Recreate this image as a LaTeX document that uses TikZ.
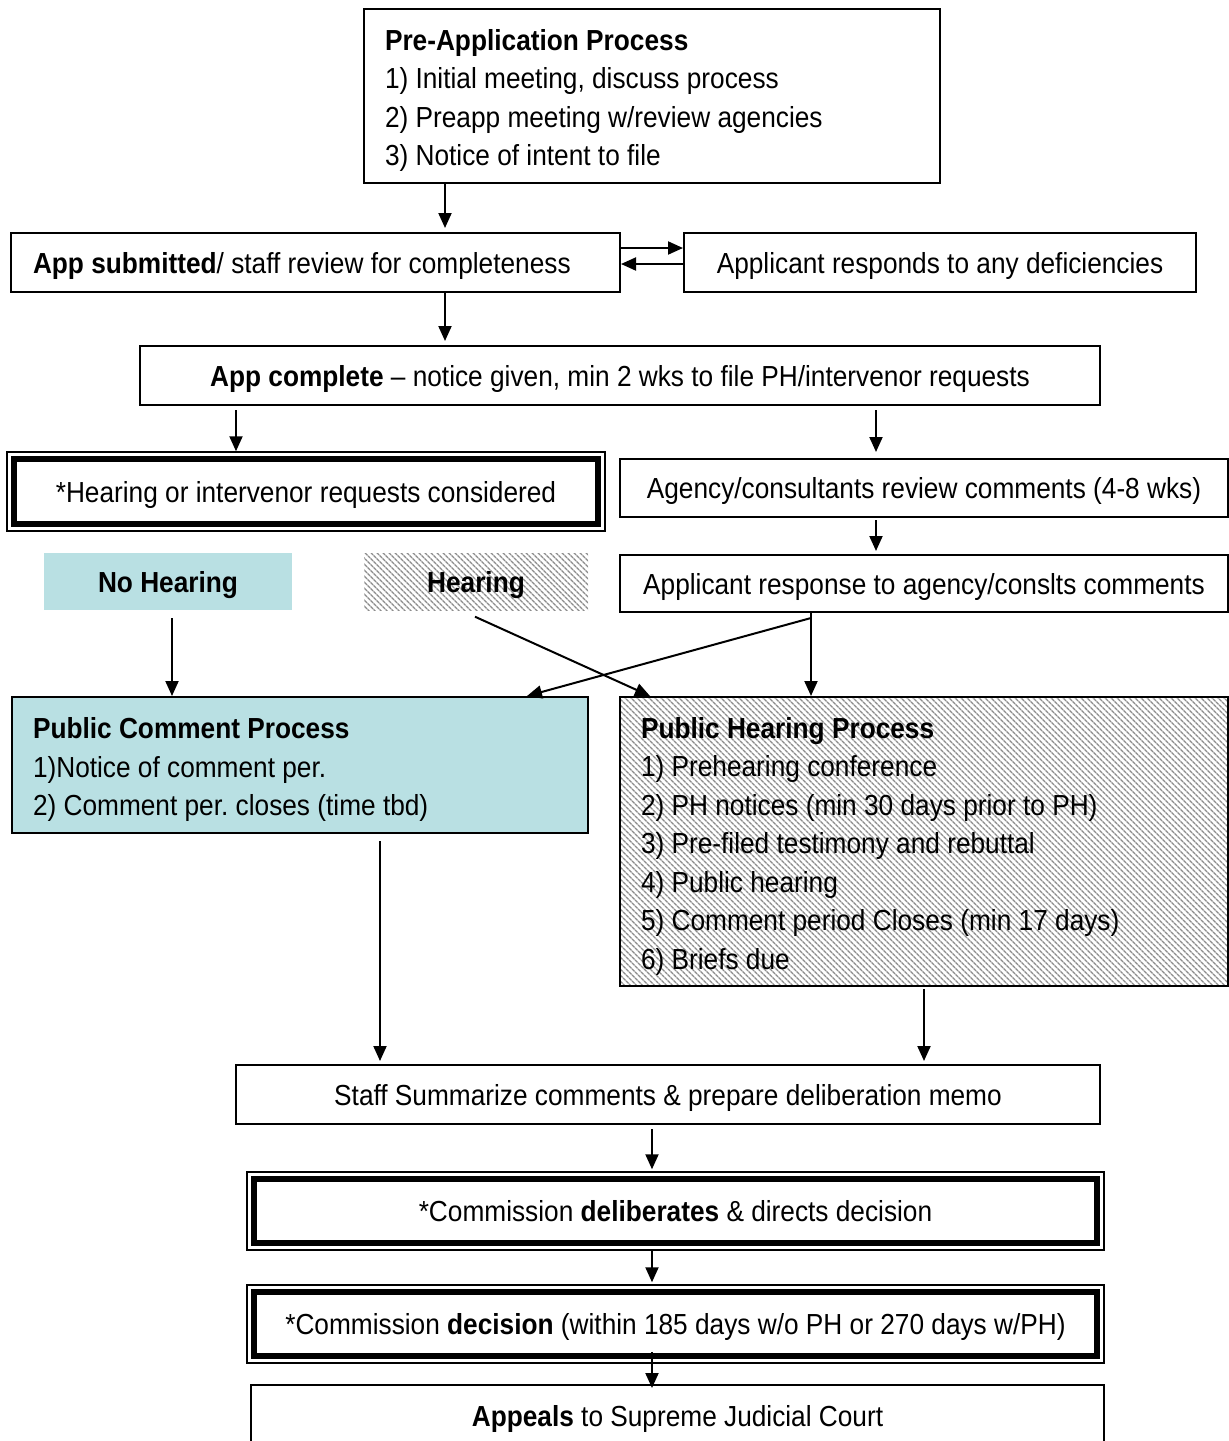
\documentclass[tikz,border=0pt]{standalone}
\usepackage{fontspec}
\setmainfont{Liberation Sans}[FakeStretch=0.905]
\usetikzlibrary{arrows.meta,patterns.meta}
\definecolor{tealfill}{RGB}{185,224,227}
\begin{document}
\begin{tikzpicture}[x=1pt,y=-1pt,
  txtfont/.style={font=\fontsize{29}{38.5}\selectfont\frenchspacing},
  box/.style={draw, line width=2pt, inner sep=0pt, txtfont, text height=21pt, text depth=0pt},
  mbox/.style={draw, line width=2pt, inner xsep=21pt, inner ysep=0pt, align=flush left, txtfont},
  dbl/.style={draw, line width=1.5pt, inner sep=0pt, txtfont, text height=21pt, text depth=0pt},
  thickin/.style={line width=6pt},
  arr/.style={line width=2pt, -{Triangle[length=15pt,width=13pt]}},
  hatch/.style={pattern={Lines[angle=-45,distance=4pt,line width=1.4pt]}, pattern color=gray!90}
]
\useasboundingbox (0,0) rectangle (1229,1441);

% nodes
\node[mbox, text width=534pt, minimum width=576pt, minimum height=174pt] (pre) at (652,96)
  {\rule{0pt}{30pt}\textbf{Pre-Application Process}\\1) Initial meeting, discuss process\\2) Preapp meeting w/review agencies\\3) Notice of intent to file};
\node[box, minimum width=609pt, minimum height=59pt, text width=565pt, inner xsep=22pt, align=flush left] (sub) at (315.5,262.5)
  {\textbf{App submitted}/ staff review for completeness};
\node[box, minimum width=512pt, minimum height=59pt] (ar) at (940,262.5)
  {Applicant responds to any deficiencies};
\node[box, minimum width=960pt, minimum height=59pt] (comp) at (620,375.5)
  {\textbf{App complete} -- notice given, min 2 wks to file PH/intervenor requests};
\node[dbl, minimum width=598pt, minimum height=79pt] (hear) at (306,491.5)
  {*Hearing or intervenor requests considered};
\node[box, minimum width=608pt, minimum height=58pt] (agency) at (924,488)
  {Agency/consultants review comments (4-8 wks)};
\node[box, minimum width=608pt, minimum height=57pt] (resp) at (924,583.5)
  {Applicant response to agency/conslts comments};
\node[box, draw=none, fill=tealfill, minimum width=248pt, minimum height=57pt] (nh) at (168,581.5)
  {\textbf{No Hearing}};
\node[box, draw=none, hatch, minimum width=224pt, minimum height=57pt] (hl) at (476,581.5)
  {\textbf{Hearing}};
\node[mbox, fill=tealfill, text width=534pt, minimum width=576pt, minimum height=136pt] (pc) at (300,765)
  {\rule{0pt}{30pt}\textbf{Public Comment Process}\\1)Notice of comment per.\\2) Comment per. closes (time tbd)};
\node[mbox, hatch, text width=566pt, minimum width=608pt, minimum height=289pt] (ph) at (924,841.5)
  {\rule{0pt}{30pt}\textbf{Public Hearing Process}\\1) Prehearing conference\\2) PH notices (min 30 days prior to PH)\\3) Pre-filed testimony and rebuttal\\4) Public hearing\\5) Comment period Closes (min 17 days)\\6) Briefs due};
\node[box, minimum width=864pt, minimum height=59pt] (staff) at (668,1094.5)
  {Staff Summarize comments \& prepare deliberation memo};
\node[dbl, minimum width=857pt, minimum height=78pt] (delib) at (675.5,1211)
  {*Commission \textbf{deliberates} \& directs decision};
\node[dbl, minimum width=857pt, minimum height=78pt] (dec) at (675.5,1324)
  {*Commission \textbf{decision} (within 185 days w/o PH or 270 days w/PH)};
\node[box, minimum width=853pt, minimum height=62pt] (app) at (677.5,1416)
  {\textbf{Appeals} to Supreme Judicial Court};

% inner thick frames of the double boxes
\foreach \n in {hear,delib,dec}{
  \draw[thickin] ([xshift=8pt,yshift=-8pt]\n.north west) rectangle ([xshift=-8pt,yshift=8pt]\n.south east);
}

% helper coordinates
\coordinate (c445) at (445,0);
\coordinate (c236) at (236,0);
\coordinate (c876) at (876,0);
\coordinate (c172) at (172,0);
\coordinate (c475) at (475,0);
\coordinate (c650) at (650,0);
\coordinate (c811) at (811,0);
\coordinate (c527) at (527,0);
\coordinate (c380) at (380,0);
\coordinate (c924) at (924,0);
\coordinate (c652) at (652,0);
\coordinate (r248) at (0,248);
\coordinate (r264) at (0,264);
\coordinate (hs) at ([yshift=-6pt]hl.south -| c475);
\coordinate (split) at ([yshift=-5pt]resp.south -| c811);

% connectors
\draw[arr, shorten >=4pt] (pre.south -| c445) -- (sub.north -| c445);
\draw[arr] (sub.east |- r248) -- (ar.west |- r248);
\draw[arr] (ar.west |- r264) -- (sub.east |- r264);
\draw[arr, shorten >=4pt] (sub.south -| c445) -- (comp.north -| c445);
\draw[arr, shorten <=4pt] (comp.south -| c236) -- (hear.north -| c236);
\draw[arr, shorten <=4pt, shorten >=6pt] (comp.south -| c876) -- (agency.north -| c876);
\draw[arr, shorten <=2pt, shorten >=3pt] (agency.south -| c876) -- (resp.north -| c876);
\draw[arr, shorten <=7pt] (nh.south -| c172) -- (pc.north -| c172);
\draw[arr] (hs) -- (ph.north -| c650);
\draw[line width=2pt] (resp.south -| c811) -- (split);
\draw[arr] (split) -- (ph.north -| c811);
\draw[arr] (split) -- (pc.north -| c527);
\draw[arr, shorten <=7pt, shorten >=3pt] (pc.south -| c380) -- (staff.north -| c380);
\draw[arr, shorten <=2pt, shorten >=3pt] (ph.south -| c924) -- (staff.north -| c924);
\draw[arr, shorten <=4pt, shorten >=2pt] (staff.south -| c652) -- (delib.north -| c652);
\draw[arr, shorten >=2pt] (delib.south -| c652) -- (dec.north -| c652);
\draw[arr, shorten <=-12pt, shorten >=-4pt] (dec.south -| c652) -- (app.north -| c652);
\end{tikzpicture}
\end{document}
